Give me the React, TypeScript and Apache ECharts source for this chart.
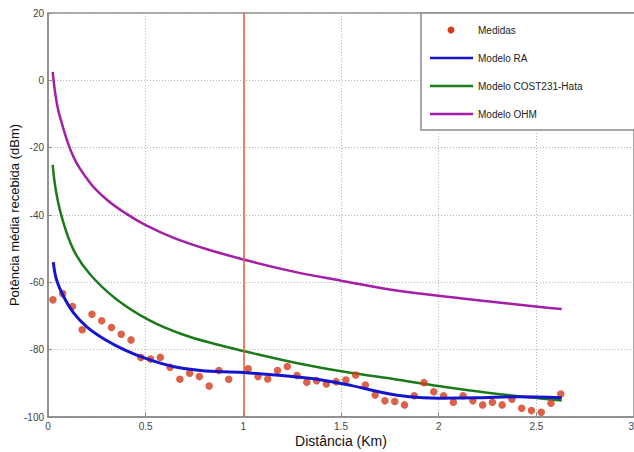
import React, { useEffect, useRef } from "react";
import * as echarts from "echarts";

// Medidas (measured points)
const measDist = [
  0.025, 0.075, 0.125, 0.175, 0.225, 0.275, 0.325, 0.375, 0.425, 0.475,
  0.525, 0.575, 0.625, 0.675, 0.725, 0.775, 0.825, 0.875, 0.925, 1.025,
  1.075, 1.125, 1.175, 1.225, 1.275, 1.325, 1.375, 1.425, 1.475, 1.525,
  1.575, 1.625, 1.675, 1.725, 1.775, 1.825, 1.875, 1.925, 1.975, 2.025,
  2.075, 2.125, 2.175, 2.225, 2.275, 2.325, 2.375, 2.425, 2.475, 2.525,
  2.575, 2.625,
];
const measPower = [
  -65.2, -63.3, -67.2, -74.1, -69.5, -71.4, -73.4, -75.4, -77.1, -82.3,
  -82.8, -82.3, -85.2, -88.8, -87.0, -88.0, -90.8, -86.2, -88.8, -85.7,
  -88.0, -88.7, -86.2, -85.0, -87.7, -89.7, -89.2, -90.2, -89.5, -89.0,
  -87.5, -90.5, -93.5, -95.2, -95.4, -96.4, -93.7, -89.8, -92.5, -93.7,
  -95.6, -93.7, -95.2, -96.4, -95.6, -96.4, -94.7, -97.4, -98.1, -98.6,
  -95.9, -93.2,
];

// Modelo RA
const raDist = [0.027, 0.044, 0.078, 0.13, 0.2, 0.3, 0.4, 0.5, 0.64, 0.78, 1.0, 1.25, 1.4, 1.55, 1.7, 1.85, 2.0, 2.2, 2.4, 2.63];
const raPower = [-54, -59.3, -64, -69, -73.3, -77.3, -80.3, -82.6, -85, -86.2, -86.8, -88, -89, -90.6, -92.6, -94, -94.4, -94.3, -94, -94.3];

// Modelo COST231-Hata
const hataDist = [0.024, 0.04, 0.07, 0.13, 0.215, 0.35, 0.52, 0.69, 0.86, 1.0, 1.29, 1.51, 1.8, 2.0, 2.25, 2.49, 2.63];
const hataPower = [-25.1, -32.6, -40.5, -50.3, -57.6, -65, -71.3, -75.5, -78.4, -80.4, -84.2, -86.5, -89, -90.8, -92.8, -94.3, -95.1];

// Modelo OHM
const ohmDist = [0.024, 0.04, 0.061, 0.13, 0.215, 0.3, 0.4, 0.5, 0.64, 0.81, 1.0, 1.24, 1.5, 1.75, 2.0, 2.26, 2.52, 2.63];
const ohmPower = [2.5, -5, -10.8, -22.7, -30.4, -35.4, -39.6, -43, -46.7, -50.1, -53.2, -56.6, -59.5, -62.1, -64, -65.7, -67.3, -67.9];

const legendNames = ["Medidas", "Modelo RA", "Modelo COST231-Hata", "Modelo OHM"];
const colors = { meas: "#d23b1c", ra: "#1515cc", hata: "#1b7a1b", ohm: "#a41ea8", marker: "#ea5a3c" };

const pairs = (xs: number[], ys: number[]) => xs.map((x, i) => [x, ys[i]]);

export default function App() {
  const ref = useRef<HTMLDivElement>(null);
  useEffect(() => {
    if (!ref.current) return;
    const chart = echarts.init(ref.current, null, { renderer: "svg" });
    const font = "Liberation Sans, Arial, sans-serif";
    const legendX = 421;
    const legendRows = [30, 58, 86, 114];
    const legendColors = [colors.meas, colors.ra, colors.hata, colors.ohm];
    const legendGraphics: any[] = [
      {
        type: "rect",
        shape: { x: legendX, y: 13, width: 220, height: 117 },
        style: { fill: "#fff", stroke: "#8a8a8a", lineWidth: 1.5 },
        z: 100,
      },
    ];
    legendNames.forEach((name, i) => {
      const y = legendRows[i];
      if (i === 0) {
        legendGraphics.push({
          type: "circle",
          shape: { cx: 451, cy: y, r: 3.5 },
          style: { fill: legendColors[i] },
          z: 101,
        });
      } else {
        legendGraphics.push({
          type: "line",
          shape: { x1: 430, y1: y, x2: 473, y2: y },
          style: { stroke: legendColors[i], lineWidth: 2.5 },
          z: 101,
        });
      }
      legendGraphics.push({
        type: "text",
        x: 478,
        y,
        style: { text: name, fill: "#222", font: `10px ${font}`, verticalAlign: "middle", align: "left" },
        z: 101,
      });
    });

    chart.setOption({
      animation: false,
      backgroundColor: "#fff",
      textStyle: { fontFamily: font },
      grid: {
        left: 48,
        right: 0,
        top: 13,
        bottom: 35,
        containLabel: false,
        outerBoundsMode: "none",
        show: true,
        borderColor: "#8a8a8a",
        borderWidth: 1.5,
      },
      xAxis: {
        type: "value",
        min: 0,
        max: 3,
        interval: 0.5,
        name: "Distância (Km)",
        nameLocation: "middle",
        nameGap: 17,
        nameMoveOverlap: false,
        nameTextStyle: { fontSize: 14, color: "#111", fontFamily: font },
        axisLine: { show: true, onZero: false, lineStyle: { color: "#8a8a8a", width: 1.5 } },
        axisTick: { show: true, inside: true, length: 4, lineStyle: { color: "#8a8a8a" } },
        axisLabel: { fontSize: 10, color: "#444", margin: 4, fontFamily: font, alignMaxLabel: "right" },
        splitLine: { show: true, lineStyle: { color: "#b5b5b5", type: [1, 2], width: 1 } },
      },
      yAxis: {
        type: "value",
        min: -100,
        max: 20,
        interval: 20,
        name: "Potência média recebida (dBm)",
        nameLocation: "middle",
        nameGap: 27,
        nameMoveOverlap: false,
        nameTextStyle: { fontSize: 13, color: "#111", fontFamily: font },
        axisLine: { show: true, onZero: false, lineStyle: { color: "#8a8a8a", width: 1.5 } },
        axisTick: { show: true, inside: true, length: 4, lineStyle: { color: "#8a8a8a" } },
        axisLabel: { fontSize: 10, color: "#444", margin: 4, fontFamily: font },
        splitLine: { show: true, lineStyle: { color: "#b5b5b5", type: [1, 2], width: 1 } },
      },
      graphic: legendGraphics,
      series: [
        {
          name: legendNames[2],
          type: "line",
          data: pairs(hataDist, hataPower),
          smooth: 0.4,
          symbol: "none",
          lineStyle: { color: colors.hata, width: 2.5 },
          z: 3,
        },
        {
          name: legendNames[3],
          type: "line",
          data: pairs(ohmDist, ohmPower),
          smooth: 0.4,
          symbol: "none",
          lineStyle: { color: colors.ohm, width: 2.5 },
          z: 3,
        },
        {
          name: legendNames[0],
          type: "scatter",
          data: pairs(measDist, measPower),
          symbol: "circle",
          symbolSize: 7.5,
          itemStyle: { color: colors.meas },
          z: 4,
          markLine: {
            silent: true,
            symbol: "none",
            label: { show: false },
            lineStyle: { color: colors.marker, width: 1.5, type: "solid" },
            data: [{ xAxis: 1 }],
          },
        },
        {
          name: legendNames[1],
          type: "line",
          data: pairs(raDist, raPower),
          smooth: 0.4,
          symbol: "none",
          lineStyle: { color: colors.ra, width: 3 },
          z: 5,
        },
      ],
    });
    return () => chart.dispose();
  }, []);
  return (
    <div
      ref={ref}
      style={{ position: "absolute", left: 0, top: 0, width: 634, height: 452 }}
    />
  );
}
